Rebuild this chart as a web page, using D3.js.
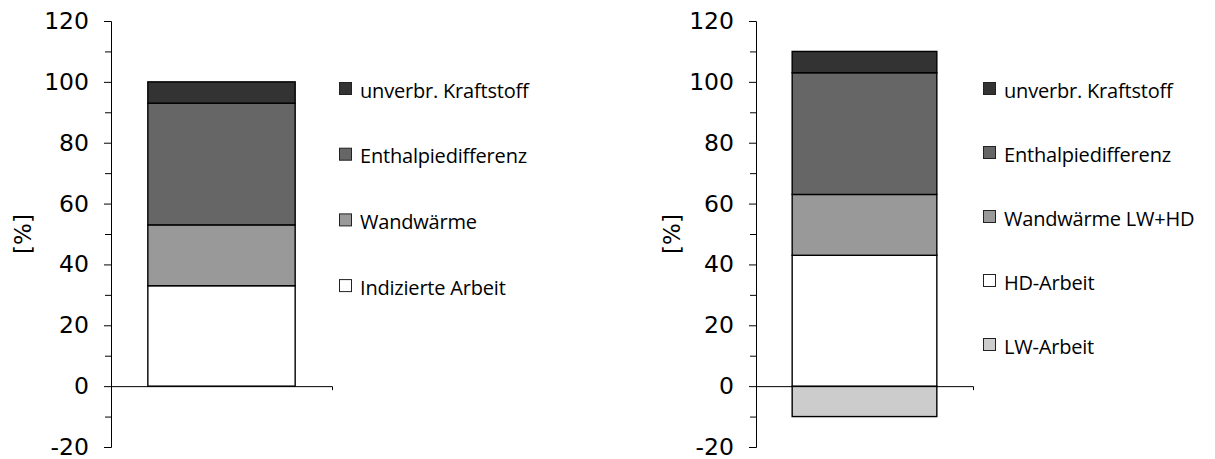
<!DOCTYPE html>
<html>
<head>
<meta charset="utf-8">
<script src="https://cdn.jsdelivr.net/npm/d3@7"></script>
<style>
  body { margin: 0; background: #fff; }
  svg { display: block; }
</style>
</head>
<body>
<div id="chart"></div>
<script>
// left panel: single engine
var leftNames  = ["Indizierte Arbeit", "Wandwärme", "Enthalpiedifferenz", "unverbr. Kraftstoff"];
var leftValues = [33, 20, 40, 7];
var leftColors = ["#ffffff", "#999999", "#666666", "#333333"];

// right panel: with LW stage
var rightNames  = ["LW-Arbeit", "HD-Arbeit", "Wandwärme LW+HD", "Enthalpiedifferenz", "unverbr. Kraftstoff"];
var rightValues = [-10, 43, 20, 40, 7];
var rightColors = ["#cccccc", "#ffffff", "#999999", "#666666", "#333333"];

var yTicks = [-20, 0, 20, 40, 60, 80, 100, 120];
var yMinorTicks = [-10, 10, 30, 50, 70, 90, 110];
var yLabel = "[%]";

var width = 1215, height = 459;

var svg = d3.select("#chart").append("svg")
    .attr("width", width)
    .attr("height", height);

var y = d3.scaleLinear()
    .domain([-20, 120])
    .range([447, 21]);

function drawPanel(names, values, colors, cfg) {
  var row = {};
  names.forEach(function(n, i) { row[n] = values[i]; });

  var series = d3.stack()
      .keys(names)
      .offset(d3.stackOffsetDiverging)([row]);

  var x = d3.scaleBand()
      .domain([""])
      .range([0, cfg.xLen])
      .padding(0.2);

  var g = svg.append("g")
      .attr("transform", "translate(" + cfg.axisX + ",0)");

  // bars
  g.selectAll(".bar")
      .data(series)
      .enter()
      .append("rect")
      .attr("class", "bar")
      .attr("x", x(""))
      .attr("y", function(d) { return y(d[0][1]); })
      .attr("width", x.bandwidth())
      .attr("height", function(d) { return y(d[0][0]) - y(d[0][1]); })
      .attr("fill", function(d, i) { return colors[i]; })
      .attr("stroke", "#000")
      .attr("stroke-width", 1.4);

  // y axis
  var ya = g.append("g")
      .call(d3.axisLeft(y).tickValues(yTicks).tickSize(7).tickPadding(15)
        .tickFormat(function(d) { return String(d); }));
  ya.selectAll("text")
      .style("font-family", "'DejaVu Sans', Verdana, sans-serif")
      .style("font-size", "23.5px")
      .attr("fill", "#000");
  ya.select(".domain").attr("stroke", "#000");
  ya.selectAll(".tick line").attr("stroke", "#000");

  g.append("g")
      .call(d3.axisLeft(y).tickValues(yMinorTicks).tickSize(6).tickFormat(""))
      .call(function(s) { s.select(".domain").remove(); })
      .selectAll("line").attr("stroke", "#000");

  // x axis at zero
  g.append("g")
      .attr("transform", "translate(0," + y(0) + ")")
      .call(d3.axisBottom(x).tickValues([]).tickSizeOuter(4))
      .select(".domain").attr("stroke", "#000");

  // y label
  svg.append("text")
      .attr("transform", "translate(" + cfg.labelX + "," + ((y(-20) + y(120)) / 2) + ") rotate(-90)")
      .attr("text-anchor", "middle")
      .attr("dominant-baseline", "central")
      .style("font-family", "'DejaVu Sans', Verdana, sans-serif")
      .style("font-size", "23px")
      .text(yLabel);

  // legend, top to bottom is reversed stack order
  var legend = svg.append("g")
      .attr("transform", "translate(" + cfg.legendX + "," + cfg.legendY + ")");
  var items = names.map(function(n, i) { return {name: n, color: colors[i]}; }).reverse();
  var li = legend.selectAll(".li")
      .data(items)
      .enter()
      .append("g")
      .attr("class", "li")
      .attr("transform", function(d, i) { return "translate(0," + (i * cfg.legendStep) + ")"; });
  li.append("rect")
      .attr("x", 0.5)
      .attr("y", -6.5)
      .attr("width", 12)
      .attr("height", 12)
      .attr("fill", function(d) { return d.color; })
      .attr("stroke", "#222")
      .attr("stroke-width", 1);
  li.append("text")
      .attr("x", 21)
      .attr("y", 1)
      .attr("dominant-baseline", "central")
      .style("font-family", "'Open Sans', 'Noto Sans', sans-serif")
      .style("font-size", "20px")
      .style("letter-spacing", "-0.2px")
      .attr("fill", "#000")
      .text(function(d) { return d.name; });
}

drawPanel(leftNames, leftValues, leftColors,
  {axisX: 111, xLen: 221, labelX: 23, legendX: 339, legendY: 89, legendStep: 65.7});
drawPanel(rightNames, rightValues, rightColors,
  {axisX: 756, xLen: 217, labelX: 672, legendX: 983, legendY: 89, legendStep: 64});
</script>
</body>
</html>
